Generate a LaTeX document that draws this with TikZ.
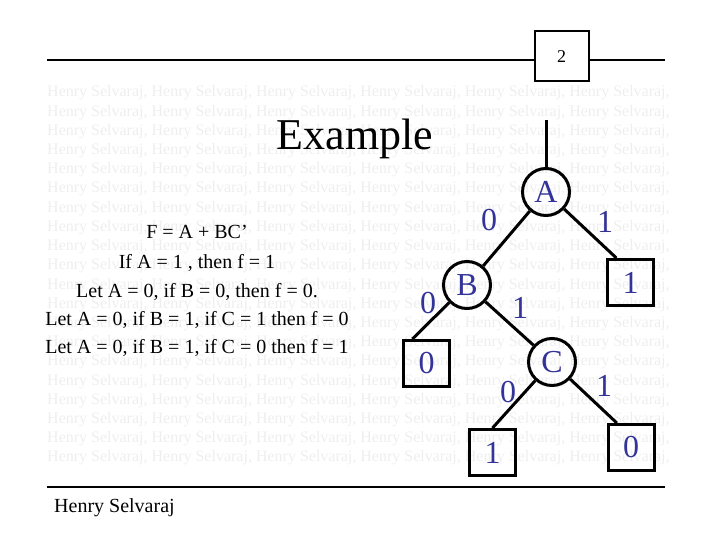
\documentclass[tikz,border=0pt]{standalone}
\usepackage{fontspec}
\setmainfont{Liberation Serif}
\usepackage{tikz}
\usetikzlibrary{shapes}
\definecolor{slideblue}{RGB}{51,51,153}
\definecolor{markgray}{RGB}{238,238,238}
\newcommand{\Sz}[1]{\fontsize{#1}{#1}\selectfont}
\newcommand{\Mark}{Henry Selvaraj, Henry Selvaraj, Henry Selvaraj, Henry Selvaraj, Henry Selvaraj, Henry Selvaraj,}

\begin{document}
\begin{tikzpicture}[x=1pt, y=-1pt,
  decnode/.style={draw, circle, line width=3pt, minimum size=47pt, inner sep=0pt,
    text=slideblue, font=\Sz{32}},
  leafbox/.style={draw, rectangle, line width=3pt, minimum size=46pt, inner sep=0pt,
    text=slideblue, font=\Sz{32}},
  edgelab/.style={text=slideblue, font=\Sz{32}, inner sep=0pt},
  branch/.style={line width=3pt},
  rule/.style={line width=2.2pt}]

  \useasboundingbox (0,0) rectangle (720,540);

  %% watermark
  \foreach \r in {0,...,19}
    \node[anchor=base west, inner sep=0pt, text=markgray, font=\Sz{16}] at (47, 97+19.2*\r) {\Mark};

  %% header and footer
  \node[draw, line width=2pt, minimum width=54pt, minimum height=50pt, inner sep=0pt,
    font=\Sz{18}] (page) at (561.5,56.5) {2};
  \coordinate (hl) at (47,60);
  \coordinate (hr) at (665,60);
  \draw[rule] (hl) -- (page.west |- hl);
  \draw[rule] (page.east |- hr) -- (hr);

  \coordinate (fl) at (47,487);
  \coordinate (fr) at (665,487);
  \draw[rule] (fl) -- (fr);
  \node[anchor=base west, inner sep=0pt, font=\Sz{20}] (author) at (54,512) {Henry Selvaraj};

  %% title and text
  \node[anchor=base, inner sep=0pt, font=\Sz{44}] (title) at (355,150) {Example};
  \node[anchor=base, inner sep=0pt, font=\Sz{20}] (t1) at (197,239) {F = A + BC’};
  \node[anchor=base, inner sep=0pt, font=\Sz{20}] (t2) at (197,268) {If A = 1 , then f = 1};
  \node[anchor=base, inner sep=0pt, font=\Sz{20}] (t3) at (197,297) {Let A = 0, if B = 0, then f = 0.};
  \node[anchor=base, inner sep=0pt, font=\Sz{20}] (t4) at (197,325) {Let A = 0, if B = 1, if C = 1 then f = 0};
  \node[anchor=base, inner sep=0pt, font=\Sz{20}] (t5) at (197,353) {Let A = 0, if B = 1, if C = 0 then f = 1};

  %% decision tree
  \node[decnode] (A) at (546,192) {A};
  \node[decnode] (B) at (467,285) {B};
  \node[decnode] (C) at (552,362) {C};
  \node[leafbox] (A1) at (630.5,282.5) {1};
  \node[leafbox] (B0) at (426.5,363.5) {0};
  \node[leafbox] (C0) at (492.5,452.5) {1};
  \node[leafbox] (C1) at (631,447.5) {0};
  \coordinate (root) at (546,120);

  \draw[branch] (root) -- (A.north);
  \draw[branch] (A) -- (B);   %% A->B
  \draw[branch] (A) -- (A1.120);   %% A->1
  \draw[branch] (B) -- (B0.120);   %% B->0
  \draw[branch] (B) -- (C);   %% B->C
  \draw[branch] (C) -- (C0.north);   %% C->1
  \draw[branch] (C) -- (C1.120);   %% C->0

  \node[edgelab] (lab1) at (489,220) {0};
  \node[edgelab] (lab2) at (605,222) {1};
  \node[edgelab] (lab3) at (428,303) {0};
  \node[edgelab] (lab4) at (520,308) {1};
  \node[edgelab] (lab5) at (508,392) {0};
  \node[edgelab] (lab6) at (604,386) {1};
\end{tikzpicture}
\end{document}
